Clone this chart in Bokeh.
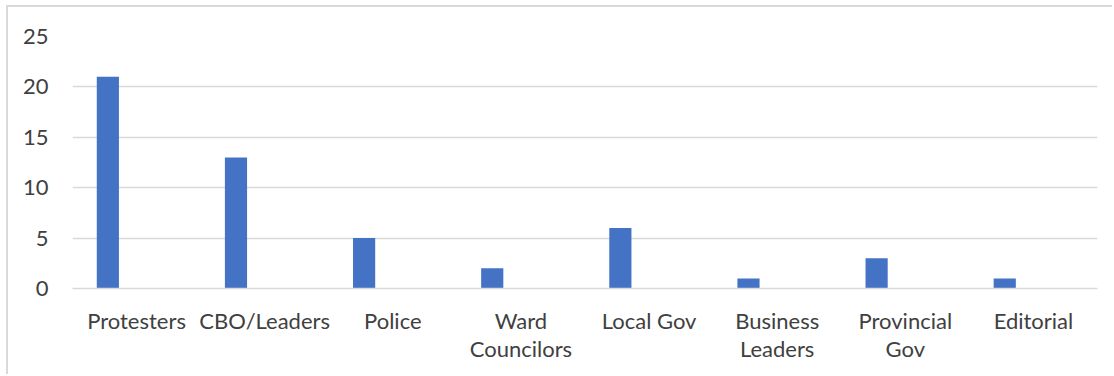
from bokeh.plotting import figure
from bokeh.models import FactorRange, Range1d, FixedTicker
from bokeh.transform import dodge
from bokeh.embed import file_html
from bokeh.resources import INLINE

categories = ["Protesters", "CBO/Leaders", "Police", "Ward\nCouncilors", "Local Gov",
              "Business\nLeaders", "Provincial\nGov", "Editorial"]
values = [21, 13, 5, 2, 6, 1, 3, 1]
y_ticks = [0, 5, 10, 15, 20, 25]

FONT = "Lato"
TEXT = "#404040"
GRID = "#d9d9d9"

p = figure(width=1106, height=369, x_range=FactorRange(factors=categories, range_padding=0),
           y_range=Range1d(0, 25), output_backend="svg", toolbar_location=None,
           min_border_left=64, min_border_right=17, min_border_top=29, min_border_bottom=88)
p.x_range.range_padding = 0
p.outline_line_color = None
p.background_fill_color = "white"
p.border_fill_color = "white"
p.styles = {"margin-left": "6px", "margin-top": "5px",
            "border-left": "2px solid #d9d9d9", "border-top": "2px solid #d9d9d9"}

p.vbar(x=dodge("x", -0.224, range=p.x_range), top="top", width=0.173,
       source=dict(x=categories, top=values), fill_color="#4472C4", line_color=None)

p.xgrid.grid_line_color = None
p.ygrid.grid_line_color = GRID
p.ygrid.grid_line_width = 1.5
p.yaxis.ticker = FixedTicker(ticks=y_ticks)

for ax in (p.xaxis[0], p.yaxis[0]):
    ax.axis_line_color = None
    ax.major_tick_line_color = None
    ax.minor_tick_line_color = None
    ax.major_tick_out = 0
    ax.major_tick_in = 0
    ax.minor_tick_out = 0
    ax.major_label_text_font = FONT
    ax.major_label_text_font_size = "22px"
    ax.major_label_text_color = TEXT

p.xaxis.axis_line_color = GRID
p.xaxis.axis_line_width = 1.5
p.yaxis.major_label_standoff = 24
p.xaxis.major_label_standoff = 18
p.xaxis.major_label_text_line_height = 1.06

open("out.html", "w").write(file_html(p, INLINE))
